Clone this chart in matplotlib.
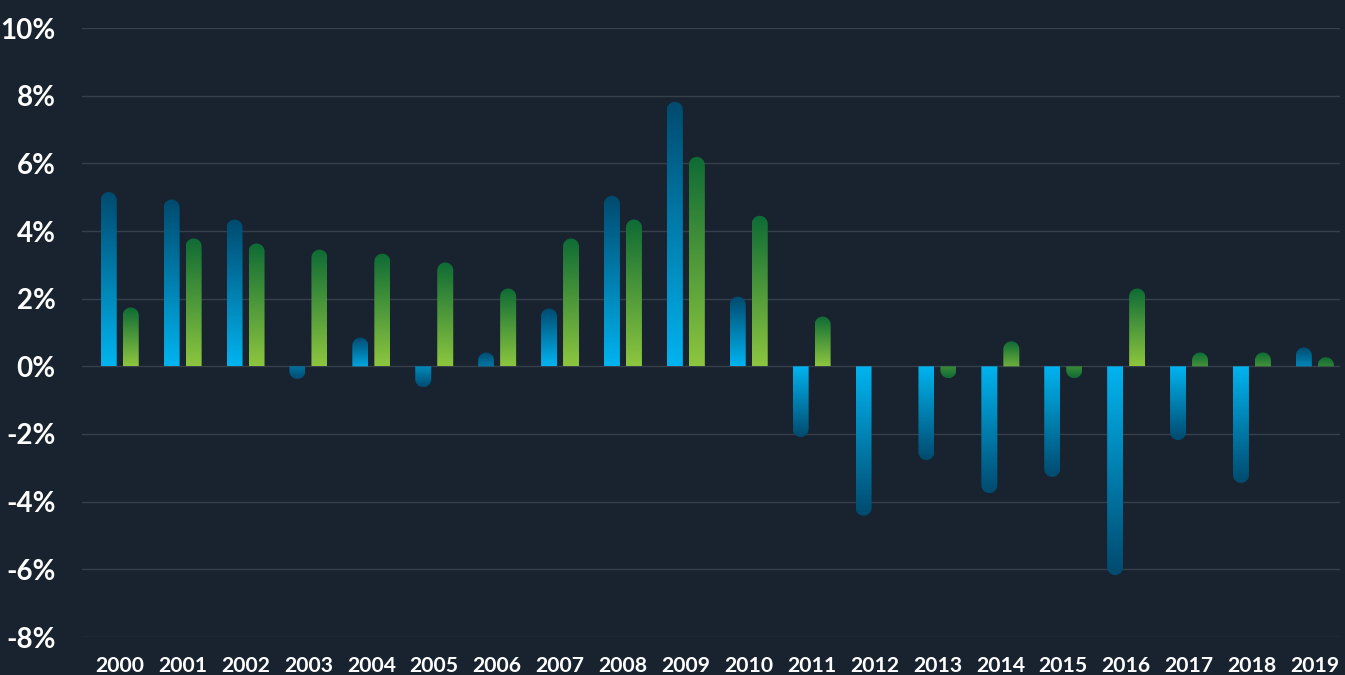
import matplotlib
matplotlib.use("Agg")
import matplotlib.pyplot as plt
import numpy as np
from matplotlib.path import Path
from matplotlib.patches import PathPatch
from matplotlib.colors import LinearSegmentedColormap

years = [str(y) for y in range(2000, 2020)]
blue_vals = [5.15, 4.93, 4.34, -0.38, 0.85, -0.62, 0.41, 1.71, 5.04, 7.82,
             2.06, -2.09, -4.42, -2.77, -3.75, -3.27, -6.17, -2.18, -3.45, 0.56]
green_vals = [1.74, 3.78, 3.63, 3.45, 3.33, 3.07, 2.30, 3.78, 4.34, 6.19,
              4.45, 1.47, 0.0, -0.35, 0.74, -0.35, 2.30, 0.41, 0.41, 0.27]
y_ticks = [-8, -6, -4, -2, 0, 2, 4, 6, 8, 10]

bg = '#18232f'
blue_cmap = LinearSegmentedColormap.from_list('b', ['#00b4f0', '#004a6e'])
green_cmap = LinearSegmentedColormap.from_list('g', ['#8dc63f', '#0e6b35'])

W, H = 1345, 675
fig = plt.figure(figsize=(W / 100, H / 100), dpi=100, facecolor=bg)
ax_l, ax_r, ax_t, ax_b = 82, 1340, 28, 637
ax = fig.add_axes([ax_l / W, 1 - ax_b / H, (ax_r - ax_l) / W, (ax_b - ax_t) / H])
ax.set_facecolor(bg)

px_x = (ax_r - ax_l) / 20.0        # pixels per category
px_y = (ax_b - ax_t) / 18.0        # pixels per percent
bar_w = 16 / px_x
off = 11 / px_x
rx = bar_w / 2
ry = 8 / px_y
min_grad = 1.0                      # short bars only show the dark end of the ramp


def bar_path(xc, v):
    # rectangle with a rounded end at the tip
    s = 1 if v >= 0 else -1
    h = abs(v)
    r = min(ry, h)
    base = s * (h - r)
    t = np.linspace(0, np.pi, 30)
    arc_x = xc + rx * np.cos(t)
    arc_y = base + s * r * np.sin(t)
    xs = [xc + rx] + list(arc_x) + [xc - rx, xc + rx]
    ys = [0] + list(arc_y) + [0, 0]
    return Path(np.column_stack([xs, ys]))


grad = np.linspace(0, 1, 256).reshape(-1, 1)
for i in range(len(years)):
    for v, dx, cmap in [(blue_vals[i], -off, blue_cmap), (green_vals[i], off, green_cmap)]:
        if v == 0:
            continue
        xc = i + dx
        path = bar_path(xc, v)
        patch = PathPatch(path, facecolor='none', edgecolor='none')
        ax.add_patch(patch)
        span = max(abs(v), min_grad)
        if v > 0:
            img, ext = grad, [xc - rx, xc + rx, v - span, v]
        else:
            img, ext = grad[::-1], [xc - rx, xc + rx, v, v + span]
        im = ax.imshow(img, cmap=cmap, origin='lower', aspect='auto',
                       extent=ext, zorder=3, interpolation='bilinear')
        im.set_clip_path(patch)

ax.set_xlim(-0.6, 19.4)
ax.set_ylim(-8, 10)
ax.set_yticks(y_ticks)
ax.set_yticklabels([f'{t}%' for t in y_ticks])
ax.set_xticks(range(len(years)))
ax.set_xticklabels(years)
ax.yaxis.grid(True, color='#363f4a', linewidth=1)
ax.set_axisbelow(True)
for s in ax.spines.values():
    s.set_visible(False)
ax.tick_params(length=0, colors='white')
for lab in ax.get_yticklabels():
    lab.set_fontfamily('Lato')
    lab.set_fontweight('bold')
    lab.set_fontsize(20)
for lab in ax.get_xticklabels():
    lab.set_fontfamily('Lato')
    lab.set_fontweight('bold')
    lab.set_fontsize(15.2)
ax.tick_params(axis='y', pad=19)
ax.tick_params(axis='x', pad=14)

fig.savefig('out.png', dpi=100, facecolor=bg)
